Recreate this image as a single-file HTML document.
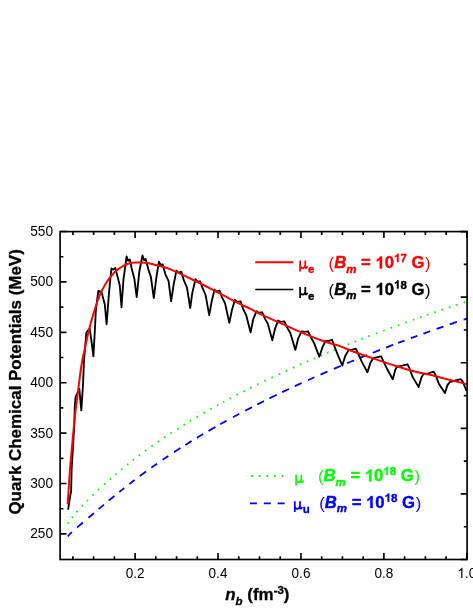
<!DOCTYPE html>
<html><head><meta charset="utf-8"><title>Quark Chemical Potentials</title>
<style>
html,body{margin:0;padding:0;background:#fff;}
body{width:473px;height:612px;overflow:hidden;font-family:"Liberation Sans",sans-serif;}
svg{display:block;will-change:transform;opacity:0.999;font-family:"Liberation Sans",sans-serif;}
.tl text{font-size:14.3px;fill:#000;}
.lg{font-size:16.7px;font-weight:bold;stroke-width:0.4px;}
.sub{font-size:11.5px;}
.subi{font-size:11.5px;font-style:italic;}
.bi{font-style:italic;}
.h1{fill-opacity:0;stroke-opacity:0;}
.rg{font-weight:normal;stroke:none;}
.ttl{font-size:16.95px;font-weight:bold;fill:#000;stroke:#000;stroke-width:0.3px;}
</style></head><body>
<svg width="473" height="612" viewBox="0 0 473 612">
<rect width="473" height="612" fill="#fff"/>
<defs><clipPath id="cp"><rect x="60.1" y="231.6" width="407.0" height="327.9"/></clipPath></defs>
<g clip-path="url(#cp)" fill="none" stroke-linejoin="round">
<path d="M67.73,523.61 L68.67,522.19 M71.78,517.89 L72.82,516.55 M76.44,512.21 L77.56,510.94 M81.82,506.28 L82.98,505.05 M86.90,501.01 L88.10,499.80 M92.49,495.46 L93.71,494.28 M97.98,490.20 L99.22,489.04 M103.97,484.65 L105.23,483.51 M109.66,479.55 L110.94,478.43 M115.25,474.70 L116.55,473.59 M121.14,469.73 L122.46,468.65 M127.04,464.92 L128.36,463.86 M132.83,460.33 L134.17,459.29 M138.72,455.80 L140.08,454.78 M145.01,451.11 L146.39,450.10 M151.41,446.48 L152.79,445.50 M157.70,442.06 L159.10,441.10 M163.99,437.76 L165.41,436.81 M170.39,433.51 L171.81,432.58 M177.18,429.12 L178.62,428.21 M183.48,425.16 L184.92,424.26 M189.77,421.29 L191.23,420.41 M196.57,417.22 L198.03,416.35 M203.56,413.12 L205.04,412.27 M210.26,409.30 L211.74,408.46 M216.86,405.61 L218.34,404.79 M222.95,402.27 L224.45,401.47 M229.45,398.79 L230.95,397.99 M236.45,395.11 L237.95,394.32 M243.24,391.60 L244.76,390.83 M250.14,388.12 L251.66,387.36 M257.14,384.64 L258.66,383.89 M264.33,381.14 L265.87,380.40 M271.33,377.79 L272.87,377.07 M278.73,374.32 L280.27,373.60 M285.73,371.09 L287.27,370.38 M292.82,367.87 L294.38,367.17 M299.82,364.74 L301.38,364.05 M306.82,361.66 L308.38,360.98 M313.62,358.72 L315.18,358.05 M320.62,355.73 L322.18,355.07 M326.92,353.08 L328.48,352.42 M333.61,350.29 L335.19,349.65 M340.71,347.39 L342.29,346.75 M347.81,344.52 L349.39,343.89 M354.61,341.81 L356.19,341.18 M361.31,339.17 L362.89,338.55 M368.31,336.45 L369.89,335.84 M375.71,333.62 L377.29,333.01 M383.10,330.82 L384.70,330.22 M390.50,328.05 L392.10,327.46 M397.90,325.33 L399.50,324.74 M405.30,322.64 L406.90,322.06 M412.70,319.98 L414.30,319.41 M420.10,317.35 L421.70,316.79 M426.80,315.00 L428.40,314.45 M434.00,312.51 L435.60,311.96 M441.40,309.97 L443.00,309.43 M448.79,307.47 L450.41,306.93 M455.79,305.13 L457.41,304.59 M463.59,302.55 L465.21,302.02" stroke="#00ff00" stroke-width="1.8"/>
<path d="M67.70,536.28 L69.10,534.81 L70.50,533.42 L71.90,532.10 M77.00,527.58 L78.97,525.90 L80.93,524.22 L82.90,522.55 M88.50,517.78 L90.30,516.25 L92.10,514.71 L93.90,513.18 M98.60,509.18 L100.40,507.65 L102.20,506.13 L104.00,504.61 M108.80,500.60 L110.70,499.02 L112.60,497.45 L114.50,495.89 M119.30,492.00 L120.97,490.66 L122.63,489.33 L124.30,488.00 M129.30,484.09 L131.10,482.69 L132.90,481.31 L134.70,479.94 M139.80,476.10 L141.90,474.54 L144.00,473.00 L146.10,471.46 M151.40,467.65 L153.30,466.30 L155.20,464.97 L157.10,463.64 M162.60,459.85 L164.50,458.56 L166.40,457.28 L168.30,456.01 M174.00,452.24 L176.13,450.85 L178.27,449.48 L180.40,448.11 M185.30,445.00 L187.40,443.69 L189.50,442.38 L191.60,441.09 M196.90,437.86 L199.00,436.59 L201.10,435.34 L203.20,434.09 M208.50,430.98 L210.83,429.63 L213.17,428.28 L215.50,426.95 M220.20,424.29 L222.33,423.09 L224.47,421.90 L226.60,420.72 M233.00,417.22 L235.10,416.08 L237.20,414.95 L239.30,413.83 M245.20,410.71 L247.47,409.53 L249.73,408.35 L252.00,407.18 M257.30,404.46 L259.53,403.33 L261.77,402.20 L264.00,401.08 M269.50,398.35 L271.90,397.17 L274.30,396.00 L276.70,394.83 M282.20,392.18 L284.47,391.09 L286.73,390.02 L289.00,388.94 M294.70,386.27 L297.03,385.19 L299.37,384.11 L301.70,383.04 M308.00,380.17 L310.13,379.21 L312.27,378.25 L314.40,377.30 M320.50,374.59 L322.83,373.57 L325.17,372.55 L327.50,371.54 M333.80,368.82 L336.13,367.82 L338.47,366.83 L340.80,365.84 M347.10,363.20 L349.43,362.23 L351.77,361.26 L354.10,360.30 M359.90,357.93 L362.30,356.95 L364.70,355.99 L367.10,355.02 M372.80,352.75 L375.20,351.80 L377.60,350.85 L380.00,349.91 M386.10,347.54 L388.50,346.62 L390.90,345.69 L393.30,344.78 M398.10,342.95 L400.23,342.15 L402.37,341.35 L404.50,340.55 M410.80,338.21 L413.03,337.39 L415.27,336.57 L417.50,335.75 M423.40,333.61 L425.67,332.80 L427.93,331.99 L430.20,331.18 M436.60,328.91 L438.87,328.11 L441.13,327.32 L443.40,326.53 M449.70,324.35 L452.10,323.53 L454.50,322.71 L456.90,321.90 M463.70,319.60 L465.30,319.07 L466.90,318.53 L468.50,318.00" stroke="#0000ff" stroke-width="1.8"/>
<path d="M68.10,509.70 L70.50,494.00 L71.10,492.00 L71.60,470.00 L73.40,440.00 L74.30,425.00 L74.70,408.00 L75.50,397.20 L77.50,392.80 L79.30,388.90 L81.30,410.40 L83.00,385.00 L83.90,362.30 L86.30,332.70 L89.60,328.40 L91.40,340.30 L93.40,356.40 L94.60,335.00 L95.90,309.80 L98.30,291.00 L101.50,292.00 L104.80,304.50 L106.60,324.30 L109.00,292.90 L111.40,268.50 L113.30,269.60 L115.40,268.10 L117.10,274.90 L119.80,285.50 L121.50,307.20 L123.40,280.20 L126.60,256.50 L128.10,260.70 L129.80,259.50 L131.90,269.60 L134.40,279.10 L136.70,297.10 L139.30,271.70 L142.50,255.40 L143.90,260.10 L145.60,259.00 L148.40,269.60 L150.90,277.00 L153.80,298.10 L156.30,278.00 L158.90,261.80 L160.60,265.00 L162.70,264.30 L165.20,273.80 L168.60,281.20 L171.10,301.30 L173.70,284.40 L176.40,270.70 L178.50,272.80 L181.30,271.70 L183.80,280.20 L187.00,287.60 L190.20,308.10 L192.30,292.90 L195.50,279.10 L197.60,281.90 L200.10,281.20 L202.40,287.60 L205.60,295.00 L209.20,315.10 L211.70,301.30 L214.50,289.70 L216.60,291.40 L219.80,290.70 L221.90,297.10 L225.10,303.40 L229.30,322.90 L232.00,309.80 L235.00,299.80 L237.10,301.90 L240.50,301.30 L243.20,309.10 L246.30,315.50 L250.60,332.40 L253.10,319.70 L256.50,311.20 L258.60,312.70 L262.20,312.30 L264.90,318.60 L267.90,323.90 L272.30,340.20 L274.90,329.20 L278.10,320.70 L280.60,321.80 L284.40,321.40 L286.90,327.10 L290.30,333.00 L295.40,349.90 L298.10,338.70 L301.70,331.30 L304.50,331.90 L308.10,331.30 L310.80,337.20 L314.00,342.90 L319.30,356.70 L322.50,347.20 L325.60,340.80 L328.80,340.80 L332.00,339.80 L334.70,347.00 L338.00,355.40 L342.30,365.50 L345.20,356.00 L348.60,350.10 L352.20,349.70 L355.80,348.60 L358.50,354.50 L362.10,362.40 L367.40,372.30 L370.60,362.40 L373.30,358.10 L377.60,357.10 L381.20,356.40 L383.90,362.40 L387.50,369.80 L392.80,379.30 L395.00,370.70 L396.70,367.00 L402.30,365.70 L407.40,364.30 L409.10,367.40 L412.50,376.70 L418.70,387.10 L421.40,377.50 L423.40,374.10 L428.50,373.30 L433.60,371.60 L435.60,375.00 L438.70,383.40 L444.90,393.10 L447.50,385.10 L449.70,382.10 L455.60,380.50 L460.70,379.20 L462.70,381.70 L464.90,386.80 L466.60,391.00" stroke="#000" stroke-width="1.85" stroke-linejoin="round"/>
<path d="M67.70,504.20 C68.07,498.58 69.20,479.87 69.90,470.50 C70.60,461.13 71.22,455.58 71.90,448.00 C72.58,440.42 73.28,432.10 74.00,425.00 C74.72,417.90 75.65,410.07 76.20,405.40 C76.75,400.73 76.87,400.40 77.30,397.00 C77.73,393.60 78.20,389.67 78.80,385.00 C79.40,380.33 80.27,373.35 80.90,369.00 C81.53,364.65 81.95,362.27 82.60,358.90 C83.25,355.53 84.07,352.18 84.80,348.80 C85.53,345.42 86.30,341.72 87.00,338.60 C87.70,335.48 88.23,333.20 89.00,330.10 C89.77,327.00 89.93,325.50 91.60,320.00 C93.27,314.50 96.52,303.38 99.00,297.10 C101.48,290.82 103.83,286.53 106.50,282.30 C109.17,278.07 112.18,274.45 115.00,271.70 C117.82,268.95 120.58,267.28 123.40,265.80 C126.22,264.32 129.43,263.37 131.90,262.80 C134.37,262.23 136.08,262.40 138.20,262.40 C140.32,262.40 142.13,262.50 144.60,262.80 C147.07,263.10 150.43,263.65 153.00,264.20 C155.57,264.75 156.98,265.20 160.00,266.10 C163.02,267.00 165.72,267.37 171.10,269.60 C176.48,271.83 185.25,276.08 192.30,279.50 C199.35,282.92 206.35,286.47 213.40,290.10 C220.45,293.73 228.50,298.20 234.60,301.30 C240.70,304.40 245.58,306.52 250.00,308.70 C254.42,310.88 255.72,311.87 261.10,314.40 C266.48,316.93 275.25,320.73 282.30,323.90 C289.35,327.07 296.35,330.47 303.40,333.40 C310.45,336.33 318.50,339.38 324.60,341.50 C330.70,343.62 335.58,344.57 340.00,346.10 C344.42,347.63 345.72,348.70 351.10,350.70 C356.48,352.70 365.25,355.70 372.30,358.10 C379.35,360.50 386.35,362.87 393.40,365.10 C400.45,367.33 408.50,369.88 414.60,371.50 C420.70,373.12 425.15,373.65 430.00,374.80 C434.85,375.95 438.58,377.10 443.70,378.40 C448.82,379.70 456.88,381.62 460.70,382.60 C464.52,383.58 465.62,384.02 466.60,384.30" stroke="#ff0000" stroke-width="2"/>
</g>
<g fill="none" stroke="#000" stroke-width="1.65">
<rect x="60.1" y="231.6" width="407.0" height="327.9"/>
<path d="M72.90,559.5 v-3.3 M72.90,231.6 v3.3 M93.63,559.5 v-3.3 M93.63,231.6 v3.3 M114.37,559.5 v-3.3 M114.37,231.6 v3.3 M135.10,559.5 v-6.4 M135.10,231.6 v6.4 M155.83,559.5 v-3.3 M155.83,231.6 v3.3 M176.57,559.5 v-3.3 M176.57,231.6 v3.3 M197.30,559.5 v-3.3 M197.30,231.6 v3.3 M218.03,559.5 v-6.4 M218.03,231.6 v6.4 M238.77,559.5 v-3.3 M238.77,231.6 v3.3 M259.50,559.5 v-3.3 M259.50,231.6 v3.3 M280.24,559.5 v-3.3 M280.24,231.6 v3.3 M300.97,559.5 v-6.4 M300.97,231.6 v6.4 M321.70,559.5 v-3.3 M321.70,231.6 v3.3 M342.44,559.5 v-3.3 M342.44,231.6 v3.3 M363.17,559.5 v-3.3 M363.17,231.6 v3.3 M383.90,559.5 v-6.4 M383.90,231.6 v6.4 M404.64,559.5 v-3.3 M404.64,231.6 v3.3 M425.37,559.5 v-3.3 M425.37,231.6 v3.3 M446.10,559.5 v-3.3 M446.10,231.6 v3.3 M466.84,559.5 v-6.4 M466.84,231.6 v6.4 M60.1,533.90 h6.4 M60.1,508.70 h3.3 M60.1,483.50 h6.4 M60.1,458.30 h3.3 M60.1,433.10 h6.4 M60.1,407.90 h3.3 M60.1,382.70 h6.4 M60.1,357.50 h3.3 M60.1,332.30 h6.4 M60.1,307.10 h3.3 M60.1,281.90 h6.4 M60.1,256.70 h3.3 M60.1,231.50 h6.4 M467.1,231.60 h-6.4 M467.1,264.39 h-3.3 M467.1,297.18 h-6.4 M467.1,329.97 h-3.3 M467.1,362.76 h-6.4 M467.1,395.55 h-3.3 M467.1,428.34 h-6.4 M467.1,461.13 h-3.3 M467.1,493.92 h-6.4 M467.1,526.71 h-3.3 M467.1,559.50 h-6.4"/>
</g>
<g class="tl"><text transform="translate(53.1,538.4) scale(0.96,1)" text-anchor="end">250</text><text transform="translate(53.1,488.0) scale(0.96,1)" text-anchor="end">300</text><text transform="translate(53.1,437.6) scale(0.96,1)" text-anchor="end">350</text><text transform="translate(53.1,387.2) scale(0.96,1)" text-anchor="end">400</text><text transform="translate(53.1,336.8) scale(0.96,1)" text-anchor="end">450</text><text transform="translate(53.1,286.4) scale(0.96,1)" text-anchor="end">500</text><text transform="translate(53.1,236.0) scale(0.96,1)" text-anchor="end">550</text><text transform="translate(135.1,578.0) scale(0.95,1)" text-anchor="middle">0.2</text><text transform="translate(218.0,578.0) scale(0.95,1)" text-anchor="middle">0.4</text><text transform="translate(301.0,578.0) scale(0.95,1)" text-anchor="middle">0.6</text><text transform="translate(383.9,578.0) scale(0.95,1)" text-anchor="middle">0.8</text><text transform="translate(466.8,578.0) scale(0.95,1)" text-anchor="middle"><tspan class="h1">1</tspan>.0</text></g>
<!-- legend -->
<path d="M255.3,262.3 H293.3" stroke="#ff0000" stroke-width="1.9"/>
<path d="M255.3,289.6 H293.3" stroke="#000" stroke-width="1.5"/>
<path d="M251.2,476 H285" stroke="#00ff00" stroke-width="1.8" stroke-dasharray="1.7 5.9"/>
<path d="M249.9,503.3 H285" stroke="#0000ff" stroke-width="1.8" stroke-dasharray="7 6.9"/>
<path transform="translate(299,268.4)" d="M1.1,-7.8 V3.0 M1.1,-3 C1.1,0.6 6.3,0.9 6.3,-3.6 M6.3,-7.8 V-2 C6.3,0.1 7.6,0.3 8.5,-2.1" fill="none" stroke="#ff0000" stroke-width="1.75"/><text x="308.0" y="273.0" fill="#ff0000" stroke="#ff0000" class="lg"><tspan class="sub">e</tspan></text><text x="328.6" y="268.4" fill="#ff0000" stroke="#ff0000" class="lg"><tspan class="rg" dy="0.6">(</tspan><tspan class="bi" dy="-0.6">B</tspan><tspan class="subi" dy="4.4">m</tspan><tspan dy="-4.4"> = </tspan><tspan class="h1">1</tspan>0<tspan class="sub" dy="-6.3"><tspan class="h1">1</tspan>7</tspan><tspan dy="6.3"> G</tspan><tspan class="rg" dx="0.6" dy="0.6">)</tspan></text>
<path transform="translate(299,294.9)" d="M1.1,-7.8 V3.0 M1.1,-3 C1.1,0.6 6.3,0.9 6.3,-3.6 M6.3,-7.8 V-2 C6.3,0.1 7.6,0.3 8.5,-2.1" fill="none" stroke="#000" stroke-width="1.75"/><text x="308.0" y="299.5" fill="#000" stroke="#000" class="lg"><tspan class="sub">e</tspan></text><text x="328.6" y="294.9" fill="#000" stroke="#000" class="lg"><tspan class="rg" dy="0.6">(</tspan><tspan class="bi" dy="-0.6">B</tspan><tspan class="subi" dy="4.4">m</tspan><tspan dy="-4.4"> = </tspan><tspan class="h1">1</tspan>0<tspan class="sub" dy="-6.3"><tspan class="h1">1</tspan>8</tspan><tspan dy="6.3"> G</tspan><tspan class="rg" dx="0.6" dy="0.6">)</tspan></text>
<path transform="translate(295,482.59999999999997)" d="M1.1,-7.8 V3.0 M1.1,-3 C1.1,0.6 6.3,0.9 6.3,-3.6 M6.3,-7.8 V-2 C6.3,0.1 7.6,0.3 8.5,-2.1" fill="none" stroke="#00ff00" stroke-width="1.75"/><text x="317.9" y="481.4" fill="#00ff00" stroke="#00ff00" class="lg"><tspan class="rg" dy="0.6">(</tspan><tspan class="bi" dy="-0.6">B</tspan><tspan class="subi" dy="4.4">m</tspan><tspan dy="-4.4"> = </tspan><tspan class="h1">1</tspan>0<tspan class="sub" dy="-6.3"><tspan class="h1">1</tspan>8</tspan><tspan dy="6.3"> G</tspan><tspan class="rg" dx="0.6" dy="0.6">)</tspan></text>
<path transform="translate(293.7,509.1)" d="M1.1,-7.8 V3.0 M1.1,-3 C1.1,0.6 6.3,0.9 6.3,-3.6 M6.3,-7.8 V-2 C6.3,0.1 7.6,0.3 8.5,-2.1" fill="none" stroke="#0000ff" stroke-width="1.75"/><text x="302.7" y="512.6" fill="#0000ff" stroke="#0000ff" class="lg"><tspan class="sub">u</tspan></text><text x="319.2" y="508.0" fill="#0000ff" stroke="#0000ff" class="lg"><tspan class="rg" dy="0.6">(</tspan><tspan class="bi" dy="-0.6">B</tspan><tspan class="subi" dy="4.4">m</tspan><tspan dy="-4.4"> = </tspan><tspan class="h1">1</tspan>0<tspan class="sub" dy="-6.3"><tspan class="h1">1</tspan>8</tspan><tspan dy="6.3"> G</tspan><tspan class="rg" dx="0.6" dy="0.6">)</tspan></text>
<!-- axis titles -->
<text class="ttl" x="225.2" y="600.1"><tspan class="bi">n</tspan><tspan class="subi" dy="4.4">b</tspan><tspan dy="-4.4"> (fm</tspan><tspan class="sub" dy="-6.3">-3</tspan><tspan dy="6.3">)</tspan></text>
<text class="ttl" transform="translate(20.7,381.9) rotate(-90)" text-anchor="middle">Quark Chemical Potentials (MeV)</text>
<path d="M-4.61,0.00H-5.87V-8.01Q-6.32,-7.58 -7.06,-7.14Q-7.80,-6.71 -8.38,-6.49V-7.71Q-7.33,-8.20 -6.54,-8.91Q-5.75,-9.61 -5.42,-10.28H-4.61Z" fill="rgb(0, 0, 0)" transform="translate(466.8,578.0) scale(0.95,1)"/>
<path d="M382.06,268.40H379.77V259.76Q378.52,260.94 376.81,261.50V259.42Q377.71,259.13 378.76,258.31Q379.81,257.49 380.20,256.40H382.06Z" fill="rgb(255, 0, 0)" stroke="rgb(255, 0, 0)" stroke-width="0.4"/>
<path d="M398.58,262.10H397.00V256.15Q396.14,256.96 394.96,257.35V255.92Q395.58,255.72 396.30,255.15Q397.03,254.59 397.30,253.83H398.58Z" fill="rgb(255, 0, 0)" stroke="rgb(255, 0, 0)" stroke-width="0.4"/>
<path d="M382.06,294.90H379.77V286.26Q378.52,287.44 376.81,288.00V285.92Q377.71,285.63 378.76,284.81Q379.81,283.99 380.20,282.90H382.06Z" fill="rgb(0, 0, 0)" stroke="rgb(0, 0, 0)" stroke-width="0.4"/>
<path d="M398.58,288.60H397.00V282.65Q396.14,283.46 394.96,283.85V282.42Q395.58,282.22 396.30,281.65Q397.03,281.09 397.30,280.33H398.58Z" fill="rgb(0, 0, 0)" stroke="rgb(0, 0, 0)" stroke-width="0.4"/>
<path d="M371.36,481.40H369.07V472.76Q367.82,473.94 366.11,474.50V472.42Q367.01,472.13 368.06,471.31Q369.11,470.49 369.50,469.40H371.36Z" fill="rgb(0, 255, 0)" stroke="rgb(0, 255, 0)" stroke-width="0.4"/>
<path d="M387.88,475.10H386.30V469.15Q385.44,469.96 384.26,470.35V468.92Q384.88,468.72 385.60,468.15Q386.33,467.59 386.60,466.83H387.88Z" fill="rgb(0, 255, 0)" stroke="rgb(0, 255, 0)" stroke-width="0.4"/>
<path d="M372.66,508.00H370.37V499.36Q369.12,500.54 367.41,501.10V499.02Q368.31,498.73 369.36,497.91Q370.41,497.09 370.80,496.00H372.66Z" fill="rgb(0, 0, 255)" stroke="rgb(0, 0, 255)" stroke-width="0.4"/>
<path d="M389.18,501.70H387.60V495.75Q386.74,496.56 385.56,496.95V495.52Q386.18,495.32 386.90,494.75Q387.63,494.19 387.90,493.43H389.18Z" fill="rgb(0, 0, 255)" stroke="rgb(0, 0, 255)" stroke-width="0.4"/>
</svg>
</body></html>
